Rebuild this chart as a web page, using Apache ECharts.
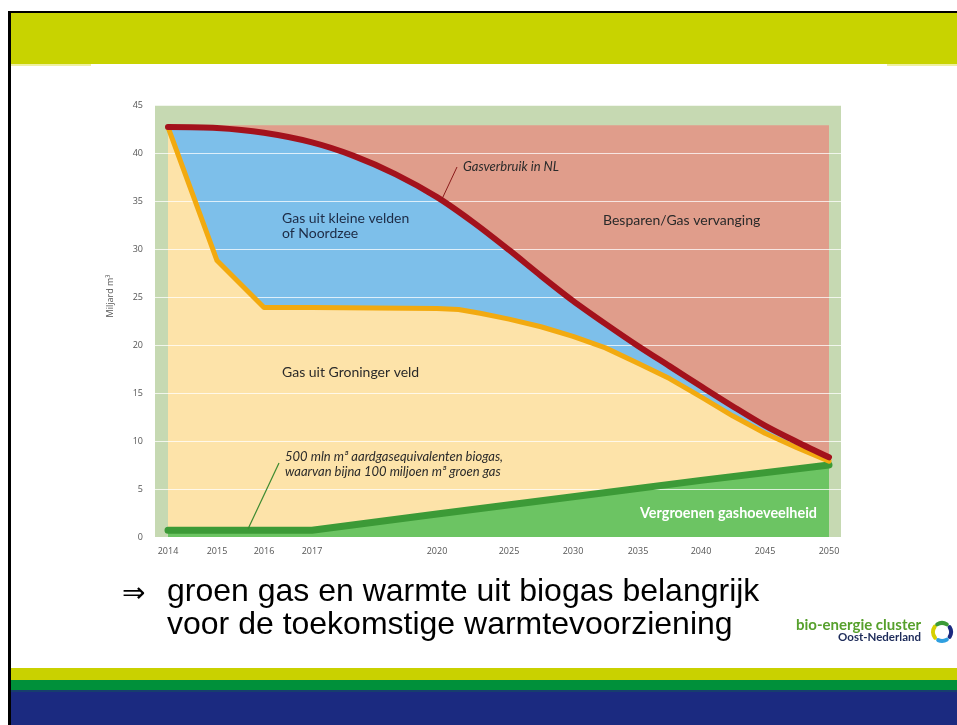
<!DOCTYPE html>
<html>
<head>
<meta charset="utf-8">
<title>Gasverbruik in NL</title>
<script src="https://cdn.jsdelivr.net/npm/echarts@6.0.0/dist/echarts.min.js"></script>
<style>
  html, body { margin: 0; padding: 0; background: #fff; }
  #main { width: 957px; height: 725px; }
</style>
</head>
<body>
<div id="main"></div>
<script>
// x axis is not linear in the original: yearly up to 2017, then 2020 and 5-year steps
const tickYears = [2014, 2015, 2016, 2017, 2020, 2025, 2030, 2035, 2040, 2045, 2050];
const tickPos = [0, 49, 96, 144, 269, 341, 405, 470, 533, 597, 661];

// Gasverbruik in NL (red line, blue area below it)
const redYears = [2014, 2015, 2016, 2017, 2018, 2019, 2020, 2022.5, 2025, 2027.5, 2030, 2032.5, 2035, 2037.5, 2040, 2042.5, 2045, 2047.5, 2050];
const redVals = [42.7, 42.6, 42.1, 41.1, 39.7, 37.8, 35.4, 32.8, 29.9, 27.2, 24.6, 22.2, 19.9, 17.8, 15.7, 13.6, 11.6, 9.9, 8.3];

// Gas uit Groninger veld (orange line, beige area below it)
const orangeYears = [2014, 2015, 2016, 2017, 2020, 2021.5, 2023, 2025, 2027.5, 2030, 2032.5, 2035, 2037.5, 2040, 2042.5, 2045, 2047.5, 2050];
const orangeVals = [42.7, 28.8, 23.9, 23.9, 23.8, 23.7, 23.3, 22.7, 21.9, 20.9, 19.7, 18.1, 16.5, 14.6, 12.6, 10.8, 9.3, 7.9];

// Vergroenen gashoeveelheid (green line + area)
const greenYears = [2014, 2017, 2020, 2030, 2040, 2050];
const greenVals = [0.7, 0.7, 2.4, 4.2, 5.9, 7.5];

// Besparen/Gas vervanging (top of the chart area)
const savingYears = [2014, 2050];
const savingVals = [42.9, 42.9];

function xOf(year) {
  for (let i = 0; i < tickYears.length - 1; i++) {
    if (year <= tickYears[i + 1]) {
      const t = (year - tickYears[i]) / (tickYears[i + 1] - tickYears[i]);
      return tickPos[i] + t * (tickPos[i + 1] - tickPos[i]);
    }
  }
  return tickPos[tickPos.length - 1];
}

function pts(years, vals) {
  return years.map((y, i) => [xOf(y), vals[i]]);
}

const chart = echarts.init(document.getElementById('main'));

const areaSeries = (name, years, vals, color, smooth) => ({
  name: name,
  type: 'line',
  z: 1,
  smooth: smooth,
  symbol: 'none',
  silent: true,
  lineStyle: { width: 0 },
  areaStyle: { color: color, opacity: 1 },
  data: pts(years, vals)
});

const lineSeries = (name, years, vals, color, width, smooth) => ({
  name: name,
  type: 'line',
  z: 3,
  smooth: smooth,
  symbol: 'none',
  silent: true,
  lineStyle: { color: color, width: width, cap: 'round', join: 'round' },
  data: pts(years, vals)
});

const txt = (text, x, y, font, fill, align) => ({
  type: 'text',
  x: x, y: y, z: 10,
  silent: true,
  style: {
    text: text, font: font, fill: fill,
    textAlign: align || 'left', textVerticalAlign: 'middle'
  }
});

const bar = (x, y, w, h, fill) => ({
  type: 'rect', silent: true,
  shape: { x: x, y: y, width: w, height: h },
  style: { fill: fill }
});

const arc = (cx, cy, r, a0, a1, color) => ({
  type: 'arc', silent: true, z: 10,
  shape: { cx: cx, cy: cy, r: r, startAngle: a0, endAngle: a1 },
  style: { stroke: color, lineWidth: 4, fill: null, lineCap: 'round' }
});

chart.setOption({
  backgroundColor: '#ffffff',
  animation: false,
  grid: {
    left: 155, top: 105, width: 686, height: 432,
    show: true, backgroundColor: '#c6d9b2', borderWidth: 0
  },
  xAxis: {
    type: 'value',
    min: -13,
    max: 673,
    axisLine: { show: false },
    axisTick: { show: false },
    splitLine: { show: false },
    axisLabel: {
      customValues: tickPos,
      margin: 10,
      fontSize: 9,
      fontFamily: 'Open Sans',
      color: '#555',
      formatter: (v) => String(tickYears[tickPos.indexOf(v)])
    }
  },
  yAxis: {
    type: 'value',
    min: 0,
    max: 45,
    interval: 5,
    z: 2,
    axisLine: { show: false },
    axisTick: { show: false },
    splitLine: { lineStyle: { color: 'rgba(255,255,255,0.75)', width: 1 } },
    axisLabel: { margin: 12, fontSize: 9, fontFamily: 'Open Sans', color: '#555' }
  },
  series: [
    areaSeries('Besparen/Gas vervanging', savingYears, savingVals, '#e09d8b', false),
    areaSeries('Gas uit kleine velden of Noordzee', redYears, redVals, '#7dbfea', 0.3),
    areaSeries('Gas uit Groninger veld', orangeYears, orangeVals, '#fde3a9', false),
    areaSeries('Vergroenen gashoeveelheid', greenYears, greenVals, '#6cc463', false),
    lineSeries('Biogas', greenYears, greenVals, '#3c9a37', 7, false),
    lineSeries('Groninger veld', orangeYears, orangeVals, '#f2aa10', 5, false),
    lineSeries('Gasverbruik in NL', redYears, redVals, '#a3121c', 6, 0.3)
  ],
  graphic: [
    // slide frame and bands
    bar(9, 11, 948, 2, '#000'),
    bar(8, 11, 3, 714, '#000'),
    bar(11, 13, 946, 51, '#c8d300'),
    bar(11, 64, 946, 2, '#eef0a0'),
    bar(91, 64, 796, 3, '#ffffff'),
    bar(11, 668, 946, 12, '#c9d100'),
    bar(11, 680, 946, 10, '#00903a'),
    bar(11, 690, 946, 35, '#1b2a80'),
    bar(11, 690, 946, 2, '#173d6e'),

    // chart annotations
    {
      type: 'text', x: 110, y: 296, z: 10, rotation: Math.PI / 2, silent: true,
      style: { text: 'Miljard m³', font: '9px "Open Sans"', fill: '#555', textAlign: 'center', textVerticalAlign: 'middle' }
    },
    txt('Gas uit kleine velden', 282, 218, '14px Lato', '#1d2b45'),
    txt('of Noordzee', 282, 233, '14px Lato', '#1d2b45'),
    txt('Besparen/Gas vervanging', 603, 220, '14px Lato', '#2a2a2a'),
    txt('Gasverbruik in NL', 463, 167, 'italic 13px Lato', '#2a2a2a'),
    txt('Gas uit Groninger veld', 282, 372, '14px Lato', '#2a2a2a'),
    txt('500 mln m³ aardgasequivalenten biogas,', 285, 457, 'italic 13px Lato', '#2a2a2a'),
    txt('waarvan bijna 100 miljoen m³ groen gas', 285, 472, 'italic 13px Lato', '#2a2a2a'),
    txt('Vergroenen gashoeveelheid', 640, 513, 'bold 14.4px Lato', '#ffffff'),
    {
      type: 'line', silent: true, z: 10,
      shape: { x1: 442, y1: 199, x2: 457, y2: 167 },
      style: { stroke: '#8a1a1a', lineWidth: 1 }
    },
    {
      type: 'line', silent: true, z: 10,
      shape: { x1: 248, y1: 529, x2: 279, y2: 463 },
      style: { stroke: '#3c8a30', lineWidth: 1.2 }
    },

    // slide text
    txt('⇒', 122, 595, '28px "DejaVu Sans"', '#000'),
    txt('groen gas en warmte uit biogas belangrijk', 167, 592, '32px "Liberation Sans"', '#000'),
    txt('voor de toekomstige warmtevoorziening', 167, 625, '32px "Liberation Sans"', '#000'),

    // logo
    txt('bio-energie cluster', 921, 625, 'bold 15px Lato', '#56a02c', 'right'),
    txt('Oost-Nederland', 921, 637, 'bold 11.5px Lato', '#1d2b5a', 'right'),
    arc(942, 632, 9, Math.PI * 0.78, Math.PI * 1.2, '#d6d000'),
    arc(942, 632, 9, Math.PI * 1.32, Math.PI * 1.68, '#3c9a37'),
    arc(942, 632, 9, Math.PI * 1.82, Math.PI * 2.18, '#1b2a80'),
    arc(942, 632, 9, Math.PI * 0.32, Math.PI * 0.64, '#2f9fe0')
  ]
});
</script>
</body>
</html>
